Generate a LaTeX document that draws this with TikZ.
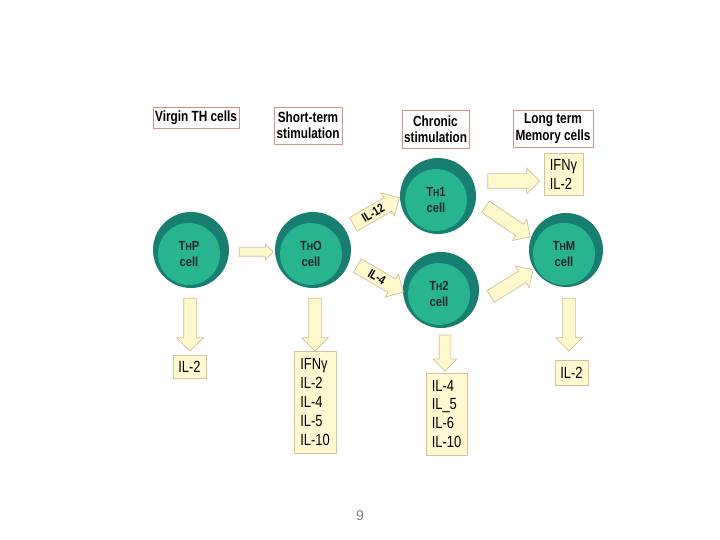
\documentclass[tikz,border=0pt]{standalone}
\usepackage{fontspec}
\setmainfont{Liberation Sans}
\newfontfamily\narrowfont[FakeStretch=0.8]{Liberation Sans}
\newfontfamily\cellfont[FakeStretch=0.85]{Liberation Sans}
\usetikzlibrary{shapes.arrows,positioning}
\definecolor{headedge}{RGB}{205,150,125}
\definecolor{ringteal}{RGB}{24,126,112}
\definecolor{coregreen}{RGB}{40,180,142}
\definecolor{celltext}{RGB}{25,40,40}
\definecolor{arrowfill}{RGB}{255,248,205}
\definecolor{arrowedge}{RGB}{210,192,150}
\definecolor{boxfill}{RGB}{255,248,208}
\definecolor{boxedge}{RGB}{218,192,150}
\newcommand{\thcell}[1]{T{\fontsize{5.8}{9.5}\selectfont H}#1\\cell}

\begin{document}
\begin{tikzpicture}[x=0.02cm,y=-0.02cm,
  heading/.style={draw=headedge,fill=white,align=center,inner sep=1pt,font=\narrowfont\bfseries\fontsize{8.4}{9.2}\selectfont},
  ring/.style={circle,fill=ringteal,minimum size=1.52cm,inner sep=0pt},
  core/.style={circle,fill=coregreen,minimum size=1.24cm,inner sep=0pt,align=center,text=celltext,font=\cellfont\bfseries\fontsize{7.5}{9.5}\selectfont},
  pointer/.style={single arrow,draw=arrowedge,fill=arrowfill,inner xsep=1pt,inner ysep=0.12cm,minimum height=1.06cm,single arrow head extend=0.14cm},
  tag/.style={pointer,inner ysep=0.06cm,text height=5pt,text depth=0pt,single arrow head extend=0.11cm,font=\narrowfont\bfseries\fontsize{7.2}{7.5}\selectfont},
  cyto/.style={draw=boxedge,fill=boxfill,align=left,inner sep=1pt,font=\narrowfont\fontsize{9.2}{10.8}\selectfont}
]
\useasboundingbox[fill=white] (0,0) rectangle (720,540);

\node[heading,minimum width=1.72cm,minimum height=0.42cm] (virgin) at (196,117.5) {Virgin TH cells};
\node[heading,minimum width=1.36cm,minimum height=0.74cm] (short) at (308,125.5) {Short-term\\stimulation};
\node[heading,minimum width=1.34cm,minimum height=0.76cm] (chronic) at (435.5,129) {Chronic\\stimulation};
\node[heading,minimum width=1.6cm,minimum height=0.74cm] (memory) at (553,128.5) {Long term\\Memory cells};

\node[ring] (thp) at (191,250) {};
\node[core] (thpcore) at ([xshift=-0.04cm,yshift=-0.08cm]thp.center) {\thcell{P}};
\node[ring] (tho) at (313,250) {};
\node[core] (thocore) at ([xshift=-0.04cm,yshift=-0.08cm]tho.center) {\thcell{O}};
\node[ring] (thone) at (438,196) {};
\node[core] (thonecore) at ([xshift=-0.04cm,yshift=-0.08cm]thone.center) {\thcell{1}};
\node[ring] (thtwo) at (441,290) {};
\node[core] (thtwocore) at ([xshift=-0.04cm,yshift=-0.08cm]thtwo.center) {\thcell{2}};
\node[ring,minimum size=1.48cm] (thm) at (566,250) {};
\node[core] (thmcore) at ([xshift=-0.04cm,yshift=-0.08cm]thm.center) {\thcell{M}};

\node[pointer,minimum height=0.68cm,inner ysep=0.08cm,single arrow head extend=0.07cm] (ptoo) at (254,252) {};
\node[tag,rotate=30] (ilxii) at (373,213) {IL-12};
\node[tag,rotate=-30] (iliv) at (377,277) {IL-4};
\node[pointer,minimum height=1.04cm,inner ysep=0.14cm,single arrow head extend=0.11cm] (onetobox) at (510,181) {};
\node[pointer,rotate=-34,minimum height=1.08cm,inner ysep=0.13cm,single arrow head extend=0.12cm] (onetom) at (505,220) {};
\node[pointer,rotate=32,minimum height=1.0cm,inner ysep=0.13cm,single arrow head extend=0.12cm] (twotom) at (509,285) {};

\node[pointer,rotate=-90] (pdown) at (190,321.5) {};
\node[pointer,rotate=-90] (odown) at (315,321.5) {};
\node[pointer,rotate=-90,minimum height=0.72cm,inner ysep=0.11cm,single arrow head extend=0.12cm] (twodown) at (445,350) {};
\node[pointer,rotate=-90] (mdown) at (569,321.5) {};

\node[cyto,minimum width=0.66cm,minimum height=0.46cm] (pout) at (189.5,366.5) {IL-2};
\node[cyto,minimum width=0.84cm,minimum height=2.04cm] (oout) at (315,402) {IFNγ\\IL-2\\IL-4\\IL-5\\IL-10};
\node[cyto,minimum width=0.82cm,minimum height=1.64cm] (twoout) at (446.5,414) {IL-4\\IL\_5\\IL-6\\IL-10};
\node[cyto,minimum width=0.66cm,minimum height=0.5cm] (mout) at (571.5,372.5) {IL-2};
\node[cyto,minimum width=0.78cm,minimum height=0.84cm] (oneout) at (563.5,174) {IFNγ\\IL-2};

\node[text=gray,font=\fontsize{8}{9}\selectfont] (pagenum) at (360,516) {9};
\end{tikzpicture}
\end{document}
